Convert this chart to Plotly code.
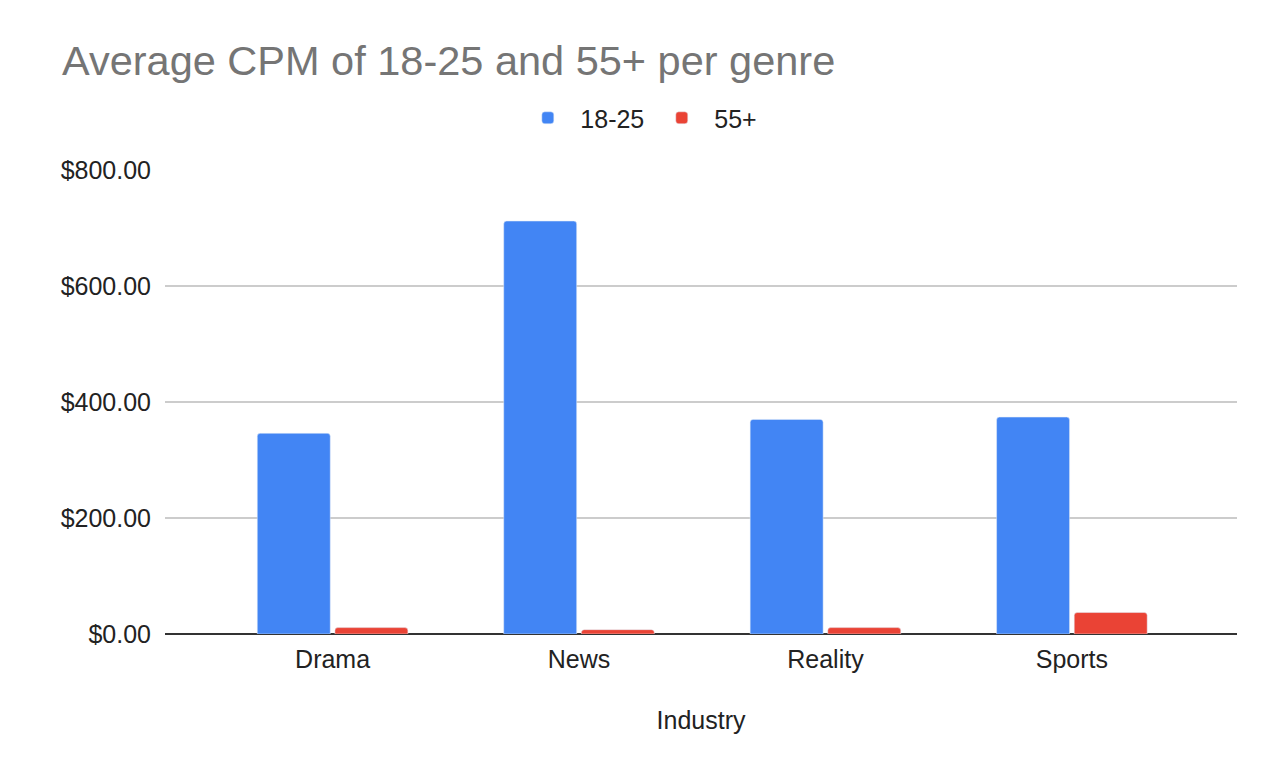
import plotly.graph_objects as go

# ---------------------------------------------------------------------------
# Data
# ---------------------------------------------------------------------------

genres = ["Drama", "News", "Reality", "Sports"]
cpm_18_25 = [346, 712, 370, 374]
cpm_55_plus = [11, 7.5, 11, 37]

COLORS = {
    "blue": "#4285F4",
    "red": "#EA4335",
    "title": "#757575",
    "text": "#222222",
    "grid": "#CCCCCC",
    "zero": "#333333",
}

FONT = "Arial, 'Liberation Sans', sans-serif"

# page body adds an 8px offset, compensate in the margins
OFF = 8

fig = go.Figure()

fig.add_trace(go.Bar(
    x=genres,
    y=cpm_18_25,
    name="18-25",
    marker=dict(color=COLORS["blue"], cornerradius=3),
))

fig.add_trace(go.Bar(
    x=genres,
    y=cpm_55_plus,
    name="55+",
    marker=dict(color=COLORS["red"], cornerradius=3),
))

fig.update_layout(
    width=1276,
    height=764,
    paper_bgcolor="white",
    plot_bgcolor="white",
    font=dict(family=FONT, color=COLORS["text"], size=25),
    margin=dict(l=165 - OFF, r=39 + OFF, t=170 - OFF, b=130 + OFF),
    title=dict(
        text="Average CPM of 18-25 and 55+ per genre",
        x=(62 - OFF) / 1276, xanchor="left",
        y=1 - (60 - OFF) / 764, yanchor="middle",
        font=dict(size=41.5, color=COLORS["title"], family=FONT),
    ),
    legend=dict(
        orientation="h",
        x=0.442, xanchor="center",
        y=1.112, yanchor="middle",
        font=dict(size=25, color=COLORS["text"]),
        itemwidth=55,
    ),
    barmode="group",
    bargap=0.37,
    bargroupgap=0.06,
    xaxis=dict(
        range=[-0.68, 3.67],
        showgrid=False,
        showline=False,
        ticks="",
        ticklabelstandoff=8,
        tickfont=dict(size=25, color=COLORS["text"]),
        title=dict(text="Industry", standoff=39, font=dict(size=25, color=COLORS["text"])),
    ),
    yaxis=dict(
        range=[0, 800],
        tickvals=[0, 200, 400, 600, 800],
        tickformat="$,.2f",
        gridcolor=COLORS["grid"],
        gridwidth=1.5,
        zeroline=True,
        zerolinecolor=COLORS["zero"],
        zerolinewidth=2,
        ticks="",
        ticklabelstandoff=13,
        tickfont=dict(size=25, color=COLORS["text"]),
    ),
)

fig.write_html("out.html")
